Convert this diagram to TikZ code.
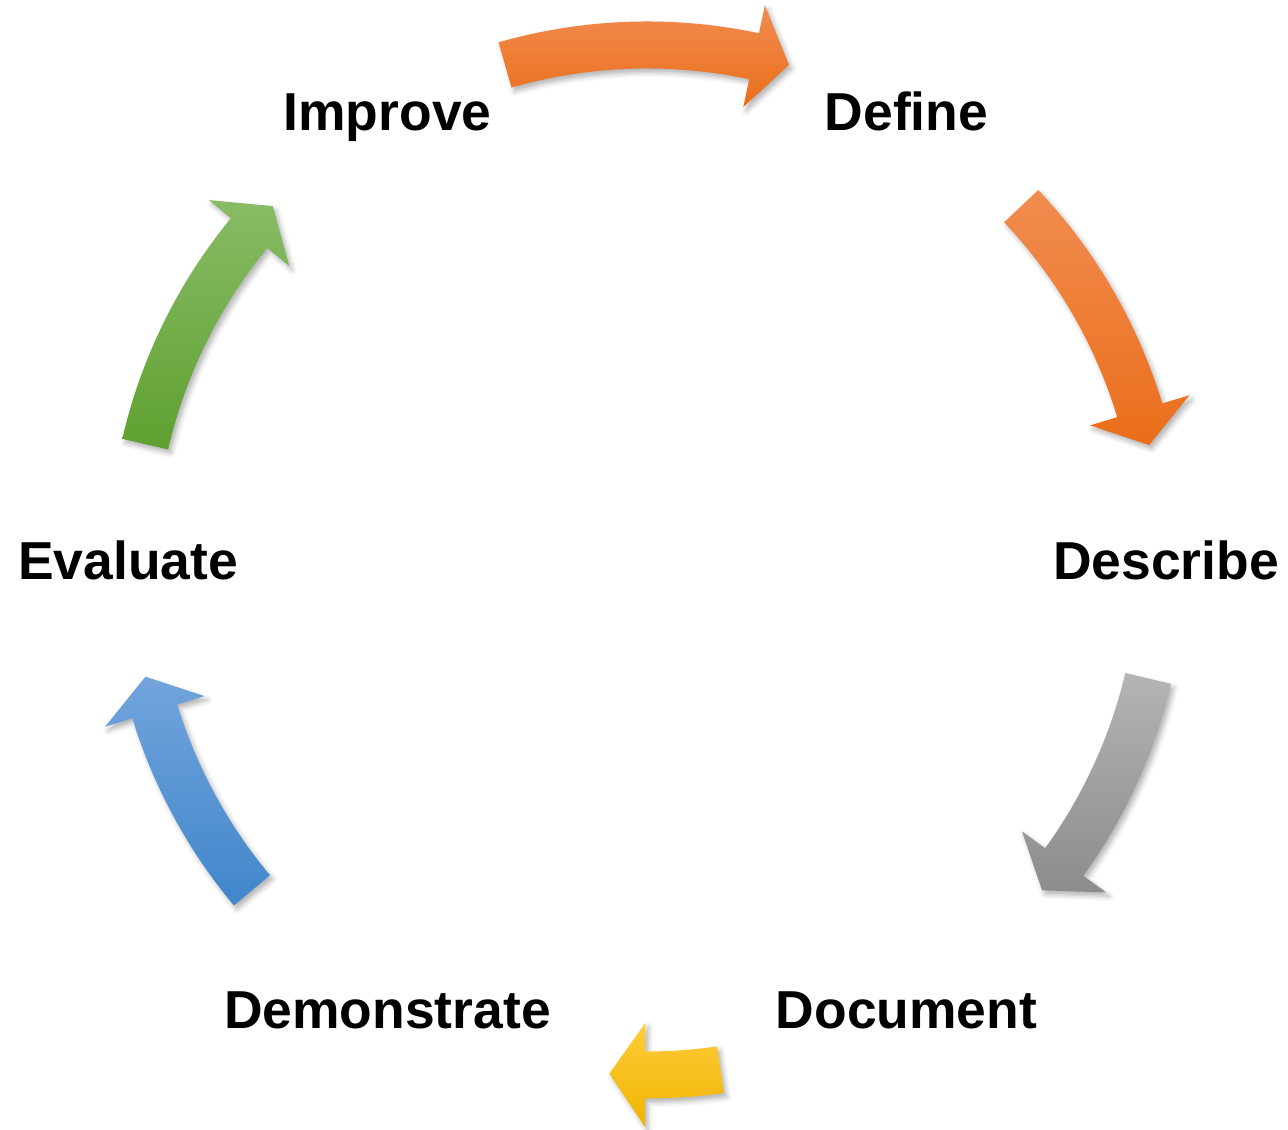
\documentclass[tikz,border=0pt]{standalone}
\usepackage{fontspec}
\setmainfont{Liberation Sans}
\usetikzlibrary{calc,shadows.blur}
\definecolor{orTop}{RGB}{242,140,80}
\definecolor{orBot}{RGB}{234,110,26}
\definecolor{grTop}{RGB}{180,180,180}
\definecolor{grBot}{RGB}{140,140,140}
\definecolor{yeTop}{RGB}{255,204,60}
\definecolor{yeBot}{RGB}{240,180,0}
\definecolor{blTop}{RGB}{114,164,221}
\definecolor{blBot}{RGB}{64,134,203}
\definecolor{gnTop}{RGB}{136,188,102}
\definecolor{gnBot}{RGB}{94,160,48}
% #1 tail angle, #2 tip angle, #3 top colour, #4 bottom colour
\newcommand\cycarrow[4]{%
  \pgfmathsetmacro\headbase{#2+4}%
  \path[cycshape, top color=#3, bottom color=#4]
    ($(C)+(#1:5.385)$) arc[start angle=#1, end angle=\headbase, radius=5.385]
    -- ($(C)+(\headbase:5.67)$) -- ($(C)+(#2:5.15)$) -- ($(C)+(\headbase:4.63)$)
    -- ($(C)+(\headbase:4.915)$) arc[start angle=\headbase, end angle=#1, radius=4.915]
    -- cycle;
}
\begin{document}
\begin{tikzpicture}[
  lbl/.style={font=\fontsize{15.2}{18}\selectfont\bfseries, inner sep=0pt, anchor=base, text=black},
  cycshape/.style={draw=none, blur shadow={shadow xshift=0.03cm, shadow yshift=-0.04cm, shadow blur radius=0.05cm, shadow opacity=30}}
]
\useasboundingbox (0,0) rectangle (12.88,11.30);
\coordinate (C) at (6.47,5.70);

\cycarrow{106}{74}{orTop}{orBot}
\cycarrow{43.4}{12.9}{orTop}{orBot}
\cycarrow{-13.3}{-39.9}{grTop}{grBot}
\cycarrow{-81.8}{-94.2}{yeTop}{yeBot}
\cycarrow{219.9}{193.1}{blTop}{blBot}
\cycarrow{167}{136.6}{gnTop}{gnBot}

\node[lbl] (define) at ($(C)+(60:5.19)+(0,-0.195)$) {Define};
\node[lbl] (describe) at ($(C)+(0:5.19)+(0,-0.195)$) {Describe};
\node[lbl] (document) at ($(C)+(-60:5.19)+(0,-0.195)$) {Document};
\node[lbl] (demonstrate) at ($(C)+(-120:5.19)+(0,-0.195)$) {Demonstrate};
\node[lbl] (evaluate) at ($(C)+(180:5.19)+(0,-0.195)$) {Evaluate};
\node[lbl] (improve) at ($(C)+(120:5.19)+(0,-0.195)$) {Improve};
\end{tikzpicture}
\end{document}
